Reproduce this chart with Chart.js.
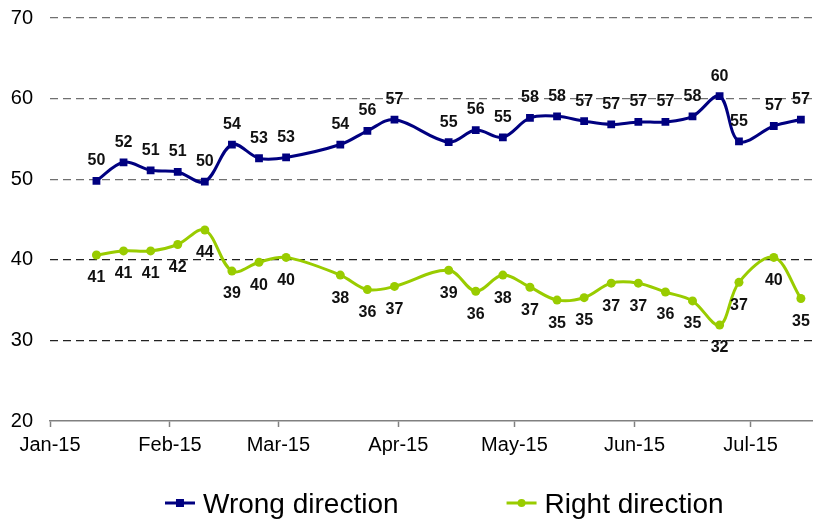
<!DOCTYPE html>
<html>
<head>
<meta charset="utf-8">
<script src="https://cdn.jsdelivr.net/npm/chart.js@4/dist/chart.umd.min.js"></script>
<style>
    html, body { margin: 0; padding: 0; background: #fff; }
    #wrap { width: 818px; height: 521px; }
</style>
</head>
<body>
<div id="wrap"><canvas id="chart" width="818" height="521"></canvas></div>
<script>
// survey dates (weekly, a few weeks missing)
const surveyDates = [
    '2015-01-13', '2015-01-20', '2015-01-27', '2015-02-03', '2015-02-10', '2015-02-17',
    '2015-02-24', '2015-03-03', '2015-03-17', '2015-03-24', '2015-03-31', '2015-04-14',
    '2015-04-21', '2015-04-28', '2015-05-05', '2015-05-12', '2015-05-19', '2015-05-26',
    '2015-06-02', '2015-06-09', '2015-06-16', '2015-06-23', '2015-06-28', '2015-07-07',
    '2015-07-14'
];

const wrongDirection = [
    49.8, 52.1, 51.1, 50.9, 49.7, 54.3, 52.6, 52.7, 54.3, 56.0, 57.4, 54.6,
    56.1, 55.2, 57.6, 57.8, 57.2, 56.8, 57.1, 57.1, 57.8, 60.3, 54.7, 56.6, 57.4
];

const rightDirection = [
    40.6, 41.1, 41.1, 41.9, 43.7, 38.6, 39.7, 40.3, 38.1, 36.3, 36.7, 38.7,
    36.1, 38.1, 36.6, 35.0, 35.3, 37.1, 37.1, 36.0, 34.9, 31.9, 37.2, 40.3, 35.2
];

// month ticks on the date axis
const monthStarts = ['2015-01-01', '2015-02-01', '2015-03-01', '2015-04-01', '2015-05-01', '2015-06-01', '2015-07-01'];
const monthLabels = ['Jan-15', 'Feb-15', 'Mar-15', 'Apr-15', 'May-15', 'Jun-15', 'Jul-15'];
const yTicks = [20, 30, 40, 50, 60, 70];

const FONT = "'Liberation Sans', Arial, sans-serif";
const BLUE = '#000080';
const GREEN = '#99cc00';

// days since 1 Jan 2015, used as the linear x value
function dayOf(str) {
    const [y, m, d] = str.split('-').map(Number);
    return (Date.UTC(y, m - 1, d) - Date.UTC(2015, 0, 1)) / 86400000;
}

const toPoints = values => values.map((v, i) => ({ x: dayOf(surveyDates[i]), y: v }));

// rounded value labels: above the blue line, below the green one
const valueLabels = {
    id: 'valueLabels',
    afterDatasetsDraw(chart) {
        const ctx = chart.ctx;
        ctx.save();
        ctx.font = 'bold 16px ' + FONT;
        ctx.fillStyle = '#111';
        ctx.textAlign = 'center';
        ctx.textBaseline = 'middle';
        chart.data.datasets.forEach((ds, i) => {
            const offset = i === 0 ? -20 : 23;
            chart.getDatasetMeta(i).data.forEach((pt, j) => {
                ctx.fillText(Math.round(ds.data[j].y), pt.x, pt.y + offset);
            });
        });
        ctx.restore();
    }
};

// legend with line + marker samples under the axis
const lineLegend = {
    id: 'lineLegend',
    afterDraw(chart) {
        const ctx = chart.ctx;
        const area = chart.chartArea;
        ctx.save();
        ctx.font = '28px ' + FONT;
        const sample = 30, textGap = 8, itemGap = 108;
        const items = chart.data.datasets.map(ds => ({ ds, w: ctx.measureText(ds.label).width }));
        const total = items.reduce((s, it) => s + sample + textGap + it.w, 0) + itemGap * (items.length - 1);
        let x = (area.left + area.right) / 2 + 13 - total / 2;
        const y = 503;
        items.forEach(it => {
            const ds = it.ds;
            ctx.strokeStyle = ds.borderColor;
            ctx.lineWidth = 3;
            ctx.beginPath();
            ctx.moveTo(x, y);
            ctx.lineTo(x + sample, y);
            ctx.stroke();
            ctx.fillStyle = ds.borderColor;
            if (ds.pointStyle === 'rect') {
                ctx.fillRect(x + sample / 2 - 4, y - 4, 8, 8);
            } else {
                ctx.beginPath();
                ctx.arc(x + sample / 2, y, 4, 0, Math.PI * 2);
                ctx.fill();
            }
            ctx.fillStyle = '#000';
            ctx.textBaseline = 'middle';
            ctx.fillText(ds.label, x + sample + textGap, y + 2);
            x += sample + textGap + it.w + itemGap;
        });
        ctx.restore();
    }
};

window.onload = () => {
    const ctx = document.getElementById('chart').getContext('2d');

    new Chart(ctx, {
        type: 'line',
        data: {
            datasets: [{
                label: 'Wrong direction',
                data: toPoints(wrongDirection),
                borderColor: BLUE,
                backgroundColor: BLUE,
                borderWidth: 3,
                pointStyle: 'rect',
                pointRadius: 5.5,
                pointBorderWidth: 0,
                tension: 0.35
            }, {
                label: 'Right direction',
                data: toPoints(rightDirection),
                borderColor: GREEN,
                backgroundColor: GREEN,
                borderWidth: 3,
                pointStyle: 'circle',
                pointRadius: 4.5,
                pointBorderWidth: 0,
                tension: 0.35
            }]
        },
        options: {
            responsive: false,
            animation: false,
            layout: { padding: { top: 18, right: 2, bottom: 56, left: 0 } },
            plugins: {
                legend: { display: false },
                tooltip: { enabled: false }
            },
            scales: {
                x: {
                    type: 'linear',
                    min: 0,
                    max: 197,
                    afterBuildTicks: scale => {
                        scale.ticks = monthStarts.map(d => ({ value: dayOf(d) }));
                    },
                    afterFit: scale => { scale.height = 44; },
                    ticks: {
                        autoSkip: false,
                        maxRotation: 0,
                        padding: 6,
                        color: '#000',
                        font: { family: FONT, size: 20 },
                        callback: value => monthLabels[monthStarts.findIndex(d => dayOf(d) === value)]
                    },
                    grid: {
                        drawOnChartArea: false,
                        drawTicks: true,
                        tickLength: 6,
                        tickColor: '#808080',
                        tickWidth: 1.5
                    },
                    border: { display: true, color: '#808080', width: 1.5 }
                },
                y: {
                    min: 20,
                    max: 70,
                    afterBuildTicks: scale => {
                        scale.ticks = yTicks.map(v => ({ value: v }));
                    },
                    // fixed gutter; the tick padding should not push the plot down
                    afterFit: scale => {
                        scale.width = 50;
                        scale.paddingTop = 0;
                        scale.paddingBottom = 0;
                    },
                    ticks: {
                        padding: 17,
                        color: '#000',
                        font: { family: FONT, size: 20 }
                    },
                    grid: {
                        drawTicks: false,
                        lineWidth: 1.3,
                        color: c => c.tick.value === 20 ? 'rgba(0,0,0,0)' : (c.tick.value >= 50 ? '#707070' : '#222')
                    },
                    border: { display: false, dash: [8, 5] }
                }
            }
        },
        plugins: [valueLabels, lineLegend]
    });
};
</script>
</body>
</html>
